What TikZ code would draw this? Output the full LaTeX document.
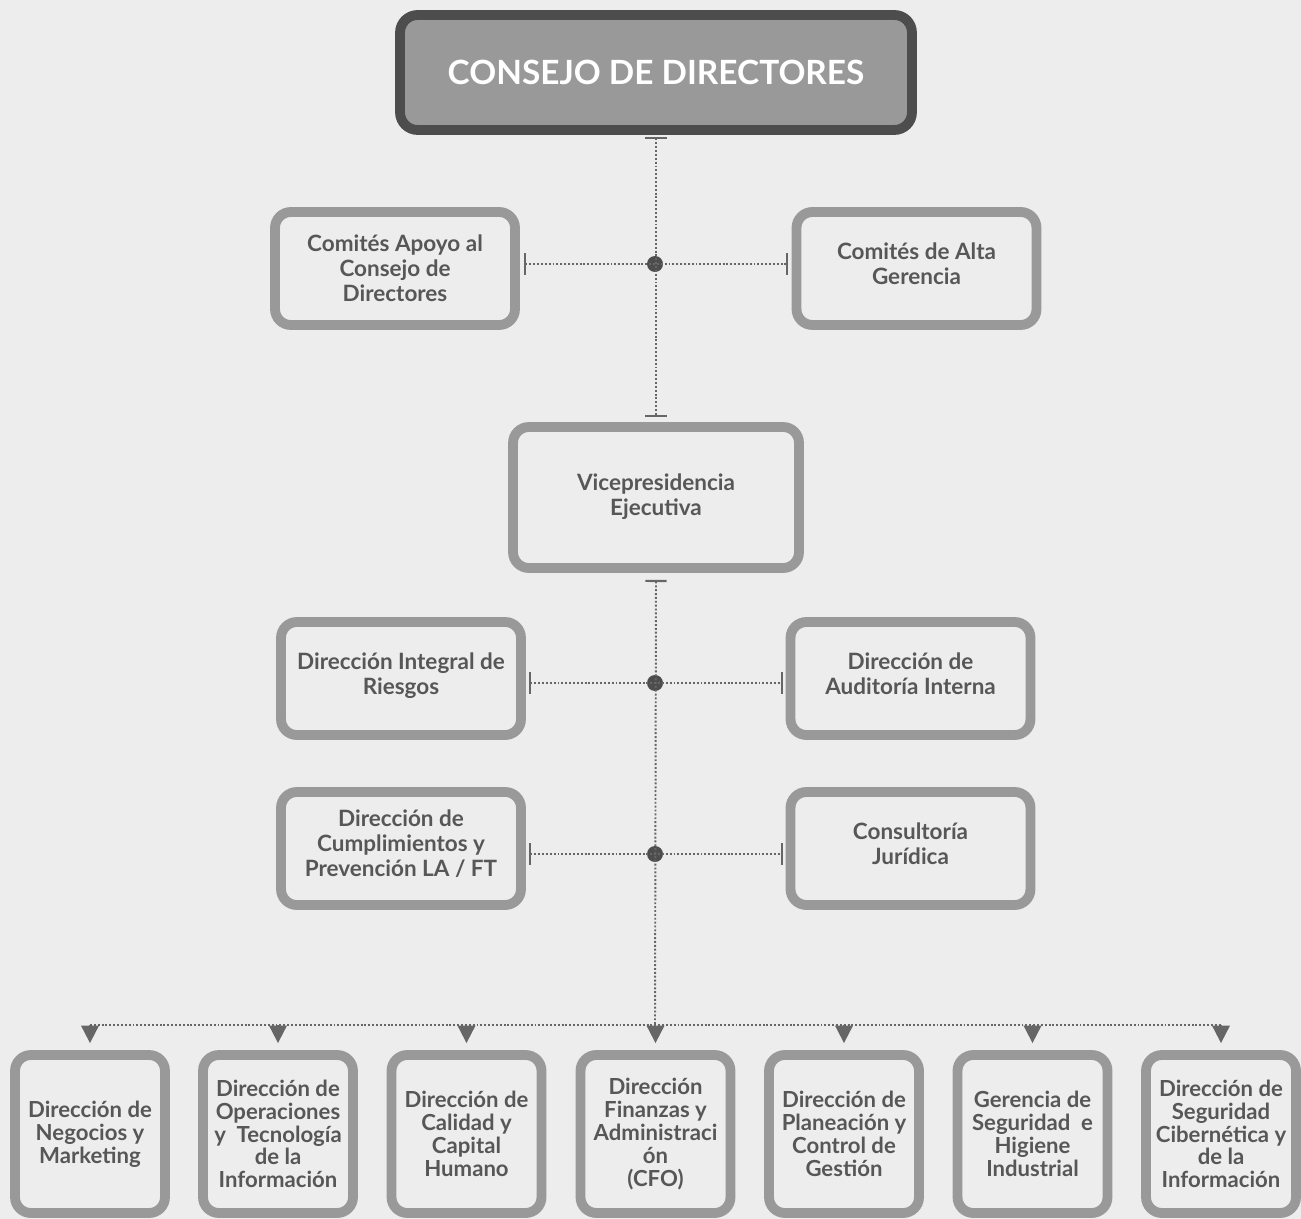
\documentclass[tikz,border=0pt]{standalone}
\usepackage{fontspec}
\setmainfont{Lato}
\usetikzlibrary{arrows.meta}
\definecolor{bg}{HTML}{EDEDED}
\definecolor{boxline}{HTML}{999999}
\definecolor{topline}{HTML}{4D4D4D}
\definecolor{topfill}{HTML}{999999}
\definecolor{txt}{HTML}{575757}
\definecolor{conn}{HTML}{666666}
\begin{document}
\begin{tikzpicture}[x=0.02cm,y=-0.02cm,
  box/.style={draw=boxline, line width=5.6pt, rounded corners=9pt, fill=bg,
    align=center, text=txt, font=\fontsize{12.8}{14.2}\selectfont\bfseries, inner sep=2pt},
  midbox/.style={box, minimum width=4.8cm, minimum height=2.26cm},
  botbox/.style={box, minimum width=3cm, minimum height=3.16cm, font=\fontsize{12.6}{13}\selectfont\bfseries},
  topbox/.style={draw=topline, fill=topfill, line width=5.6pt, rounded corners=10pt,
    minimum width=10.24cm, minimum height=2.3cm, text=white, font=\fontsize{19}{22}\selectfont\bfseries},
  dotline/.style={draw=conn, line width=1.1pt, dash pattern=on 1.1pt off 1.1pt},
  teeline/.style={dotline, {Bar[width=12pt,line width=1.2pt]}-{Bar[width=12pt,line width=1.2pt]}},
  junction/.style={circle, fill=topline, inner sep=0pt, minimum size=0.32cm},
  downarrow/.style={draw=conn, line width=1.1pt, -{Triangle[width=10pt,length=10pt]}}
]
\fill[bg] (0,0) rectangle (1301,1219);
\useasboundingbox (0,0) rectangle (1301,1219);

% top
\node[topbox] (consejo) at (656,72.5) {CONSEJO DE DIRECTORES};
\node[midbox] (apoyo) at (395,268.5) {Comités Apoyo al\\Consejo de\\Directores};
\node[midbox] (alta) at (916.5,268.5) {Comités de Alta\\Gerencia\\[-8.5pt]};
\node[box, minimum width=5.72cm, minimum height=2.82cm] (vp) at (656,497.5) {Vicepresidencia\\Ejecutiva\\[-11pt]};
\node[midbox] (riesgos) at (401,678.5) {Dirección Integral de\\Riesgos\\[-8.5pt]};
\node[midbox] (auditoria) at (910.5,678.5) {Dirección de\\Auditoría Interna\\[-8.5pt]};
\node[midbox] (cumpl) at (401,848.5) {Dirección de\\Cumplimientos y\\Prevención LA / FT\\[-8.5pt]};
\node[midbox] (juridica) at (910.5,848.5) {Consultoría\\Jurídica\\[-8.5pt]};

% bottom row
\node[botbox] (b1) at (90,1134) {Dirección de\\Negocios y\\Marketing};
\node[botbox] (b2) at (278,1134) {Dirección de\\Operaciones\\y\ \ Tecnología\\de la\\Información};
\node[botbox] (b3) at (466.5,1134) {Dirección de\\Calidad y\\Capital\\Humano};
\node[botbox] (b4) at (655.5,1134) {Dirección\\Finanzas y\\Administraci\\ón\\(CFO)};
\node[botbox] (b5) at (844,1134) {Dirección de\\Planeación y\\Control de\\Gestión};
\node[botbox] (b6) at (1032.5,1134) {Gerencia de\\Seguridad\ \ e\\Higiene\\Industrial};
\node[botbox] (b7) at (1221,1134) {Dirección de\\Seguridad\\Cibernética y\\de la\\Información};

% junctions
\node[junction] (j1) at (655,264) {};
\node[junction] (j2) at (655,683) {};
\node[junction] (j3) at (655,854) {};

% connectors upper part
\draw[teeline, shorten <=0.04cm, shorten >=0.1cm] (consejo.south) -- (vp.north);
\draw[teeline, shorten <=0.08cm, shorten >=0.08cm] (j1 -| apoyo.east) -- (j1 -| alta.west);

% connectors middle
\coordinate (bus) at (655,1025);
\coordinate (busL) at (90,1025);
\coordinate (busR) at (1221,1025);
\draw[dotline, {Bar[width=12pt,line width=1.2pt]}-, shorten <=0.14cm] (vp.south) -- (bus);
\draw[teeline, shorten <=0.06cm, shorten >=0.06cm] (j2 -| riesgos.east) -- (j2 -| auditoria.west);
\draw[teeline, shorten <=0.06cm, shorten >=0.06cm] (j3 -| cumpl.east) -- (j3 -| juridica.west);

% bus
\draw[dotline] (busL) -- (busR);
\foreach \b in {b1,b2,b3,b4,b5,b6,b7}{
  \draw[downarrow, shorten >=0.14cm] (\b.north |- bus) -- (\b.north);
}
\end{tikzpicture}
\end{document}
